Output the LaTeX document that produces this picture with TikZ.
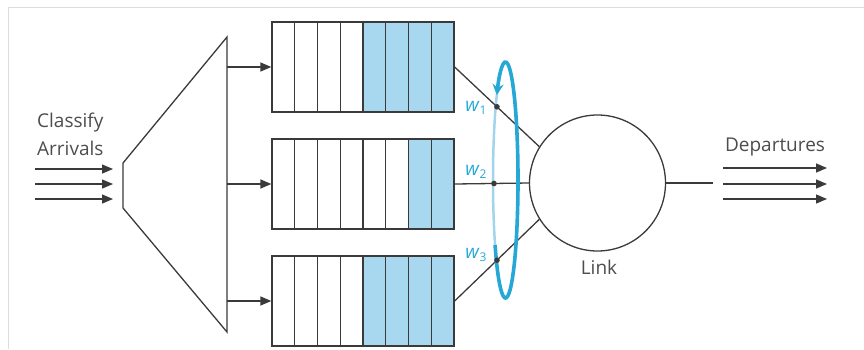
\documentclass[tikz,border=0pt]{standalone}
\usepackage{fontspec}
\setmainfont{Open Sans}
\usetikzlibrary{arrows.meta}
\definecolor{txt}{HTML}{4D4D4D}
\definecolor{ln}{HTML}{3A3A3A}
\definecolor{cellblue}{HTML}{A8D8F0}
\definecolor{wblue}{HTML}{25A8D6}
\definecolor{wlight}{HTML}{A2D4EC}
\definecolor{framec}{HTML}{DDDDDD}
\begin{document}
\begin{tikzpicture}[x=1pt,y=-1pt,
  line/.style={draw=ln, line width=1.3pt},
  arr/.style={line, -{Triangle[length=11pt,width=9pt]}},
  lbl/.style={text=txt, font=\fontsize{19}{21}\selectfont, inner sep=0pt},
  queue/.style={draw=ln, line width=1.3pt, minimum width=182pt, minimum height=90pt, inner sep=0pt},
  wl/.style={text=wblue, font=\fontsize{19}{20}\selectfont, inner sep=0pt}]
\useasboundingbox (0,0) rectangle (864,349);
\draw[framec, line width=1pt] (8,349) -- (8,7) -- (864,7);
% classifier
\coordinate (t1) at (123,163);
\coordinate (t2) at (123,208);
\coordinate (t3) at (227,332);
\coordinate (t4) at (227,37);
\draw[line, line join=miter] (t1) -- (t2) -- (t3) -- (t4) -- cycle;
% input arrows
\foreach \y [count=\i] in {169,184,199} {
  \coordinate (ia\i) at (35,\y);
  \coordinate (ib\i) at (113,\y);
  \draw[arr] (ia\i) -- (ib\i);
}
\node[lbl, anchor=west] (cl) at (37,123) {Classify};
\node[lbl, anchor=west] (ar) at (37,148) {Arrivals};
% queues
\foreach \c/\k in {67/5,184/7,301/5} {
  \fill[cellblue] (272+22.75*\k-22.75, \c-45) rectangle (454, \c+45);
  \foreach \j in {1,...,7} \draw[line] (272+22.75*\j, \c-45) -- (272+22.75*\j,\c+45);
}
\node[queue] (q1) at (363,67) {};
\node[queue] (q2) at (363,184) {};
\node[queue] (q3) at (363,301) {};
\foreach \y [count=\i] in {67,184,301} {
  \coordinate (s\i) at (227,\y);
  \draw[arr] (s\i) -- (q\i.west);
}
% link
\node[circle, draw=ln, line width=1.3pt, minimum size=136pt, inner sep=0pt] (link) at (597.5,183) {};
\node[lbl] (lk) at (599,267) {Link};
% light back of the loop
\draw[wlight, line width=2.5pt] (505.5,180) ellipse [x radius=12.5, y radius=118];
\draw[line] (q1.east) -- (link.148) coordinate[pos=0.5] (d1);
\draw[line] (q2.east) -- (link.west) coordinate[pos=0.53] (d2);
\draw[line] (q3.east) -- (link.212) coordinate[pos=0.5] (d3);
% front of the loop
\draw[wblue, line width=3.6pt, -{Stealth[length=11pt,width=11pt]}] (505.5,180) ++(146.6:12.5 and 118) arc[start angle=146.6, end angle=-134, x radius=12.5, y radius=118];
\foreach \i in {1,2,3} \fill[ln] (d\i) circle (2.8pt);
\node[wl] (w1) at (476,108) {\textit{w}\raisebox{-3.5pt}{\fontsize{12}{12}\selectfont 1}};
\node[wl] (w2) at (476,172) {\textit{w}\raisebox{-3.5pt}{\fontsize{12}{12}\selectfont 2}};
\node[wl] (w3) at (476,255) {\textit{w}\raisebox{-3.5pt}{\fontsize{12}{12}\selectfont 3}};
% departures
\coordinate (o1) at (713,183);
\draw[line] (link.east) -- (o1);
\foreach \y [count=\i] in {168,184,199} {
  \coordinate (da\i) at (723,\y);
  \coordinate (db\i) at (827,\y);
  \draw[arr] (da\i) -- (db\i);
}
\node[lbl] (dep) at (775,147) {Departures};
\end{tikzpicture}
\end{document}
